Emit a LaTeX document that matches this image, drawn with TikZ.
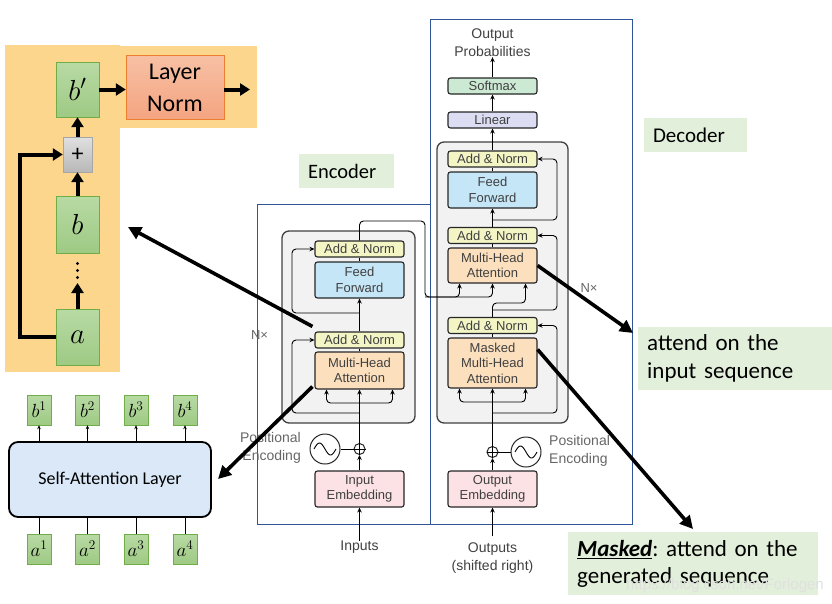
\RequirePackage{fix-cm}
\documentclass[tikz,border=0pt]{standalone}
\usepackage{fontspec}
\setmainfont{Carlito}
\newfontfamily\helv{Liberation Sans}
\usetikzlibrary{arrows.meta}

\definecolor{bggold}{RGB}{252,214,140}
\definecolor{gtop}{RGB}{184,218,164}
\definecolor{gbot}{RGB}{158,202,132}
\definecolor{gedge}{RGB}{112,173,71}
\definecolor{lntop}{RGB}{247,192,164}
\definecolor{lnbot}{RGB}{244,164,128}
\definecolor{lnedge}{RGB}{237,125,49}
\definecolor{notegreen}{RGB}{226,239,218}
\definecolor{frameblue}{RGB}{47,85,151}
\definecolor{sablue}{RGB}{218,232,247}
\definecolor{anfill}{RGB}{243,245,197}
\definecolor{fffill}{RGB}{197,230,246}
\definecolor{mhafill}{RGB}{252,224,190}
\definecolor{embfill}{RGB}{252,226,228}
\definecolor{smfill}{RGB}{204,233,212}
\definecolor{linfill}{RGB}{220,221,242}
\definecolor{tftext}{RGB}{64,64,64}

\tikzset{
  vecbox/.style={draw=gedge, top color=gtop, bottom color=gbot, inner sep=0pt},
  tfbox/.style={draw=black!85, line width=1.1pt, rounded corners=2.5pt, minimum width=89pt,
    inner sep=0pt, align=center, text=tftext, font=\helv\fontsize{13}{15.5}\selectfont},
  tfarr/.style={line width=0.9pt, rounded corners=4pt, -{Stealth[length=5pt,width=4.5pt]}},
  tfline/.style={line width=0.9pt, rounded corners=4pt},
  fatarr/.style={line width=4pt, -{Triangle[length=10pt,width=12pt]}},
  callout/.style={line width=3.6pt, -{Triangle[length=13pt,width=13pt]}},
  notebox/.style={fill=notegreen, inner xsep=9pt, inner ysep=0pt, align=left},
  tftxt/.style={text=tftext, inner sep=0pt, align=center, font=\helv\fontsize{14}{18}\selectfont},
  addcirc/.style={circle, draw=black!85, line width=1pt, minimum size=11pt, inner sep=0pt, fill=white},
  wavecirc/.style={circle, draw=black!85, line width=1pt, minimum size=30pt, inner sep=0pt},
}

\begin{document}
\begin{tikzpicture}[x=1pt,y=-1pt]
\useasboundingbox (0,0) rectangle (832,603);

% residual block on the left
\fill[bggold] (5,45) rectangle (120,372);
\fill[bggold] (38,46) rectangle (257,128);
\node[vecbox, minimum width=43pt, minimum height=55pt, font=\fontsize{29}{32}\selectfont] (bp) at (77.5,89.5) {$b'$};
\node[draw=lnedge, top color=lntop, bottom color=lnbot, minimum width=98pt, minimum height=64pt,
  inner sep=0pt, align=center, font=\fontsize{24}{32}\selectfont] (ln) at (175,87.5) {Layer\\Norm};
\node[draw=black!35, top color=black!12, bottom color=black!28, minimum width=29pt, minimum height=35pt,
  inner sep=0pt, font=\fontsize{24}{26}\selectfont] (plus) at (77.5,154.5) {+};
\node[vecbox, minimum width=43pt, minimum height=57pt, font=\fontsize{29}{32}\selectfont] (b) at (77.5,224.5) {$b$};
\foreach \y in {263.5,270.5,277.5} \fill (77.5,\y) circle (1.6);
\node[vecbox, minimum width=43pt, minimum height=56pt, font=\fontsize{29}{32}\selectfont] (a) at (77.5,337) {$a$};
\coordinate (dtop) at (77.5,283);
\coordinate (lnout) at (250,89.5);
\draw[fatarr] (bp.east) -- (bp.east -| ln.west);
\draw[fatarr] (ln.east |- bp.east) -- (lnout);
\draw[fatarr] (plus) -- (bp);
\draw[fatarr] (b) -- (plus);
\draw[fatarr] (a) -- (dtop);
\draw[fatarr] (a.west) -| (20,154.5) -- (plus.west);

% self-attention layer
\node[draw, line width=1.8pt, rounded corners=9pt, fill=sablue, minimum width=202pt, minimum height=75pt,
  font=\fontsize{18}{22}\selectfont] (sal) at (110,479.5) {Self-Attention Layer};
\foreach \i/\x in {1/39,2/87.5,3/136,4/185} {
  \node[vecbox, minimum width=24pt, minimum height=30pt, font=\fontsize{19}{22}\selectfont] (b\i) at (\x,410) {$b^{\i}$};
  \node[vecbox, minimum width=24pt, minimum height=30pt, font=\fontsize{19}{22}\selectfont] (a\i) at (\x,549) {$a^{\i}$};
  \draw[line width=0.8pt, -{Stealth[length=4pt,width=3.5pt]}] (sal.north -| b\i) -- (b\i.south);
  \draw[line width=0.8pt] (a\i.north) -- (sal.south -| a\i);
}

% encoder
\node[notebox, minimum width=95pt, minimum height=34pt, text width=77pt, font=\fontsize{20.5}{24}\selectfont] (enclabel) at (346.5,171) {Encoder};
\draw[frameblue, line width=0.9pt] (257,204) rectangle (430,524);
\node[draw=black!75, line width=1.3pt, rounded corners=7pt, fill=black!5, minimum width=133pt, minimum height=192pt] (encblock) at (348.5,327) {};
\node[tfbox, fill=anfill, minimum height=16pt] (encan2) at (359.5,249) {Add \& Norm};
\node[tfbox, fill=fffill, minimum height=36pt] (encff) at (359.5,280) {Feed\\Forward};
\node[tfbox, fill=anfill, minimum height=16pt] (encan1) at (359.5,340) {Add \& Norm};
\node[tfbox, fill=mhafill, minimum height=37pt] (encmha) at (359.5,370.5) {Multi-Head\\Attention};
\node[tfbox, fill=embfill, minimum height=36pt] (encemb) at (359.5,489) {Input\\Embedding};
\node[addcirc] (encadd) at (359.5,449) {};
\draw[line width=0.9pt] (encadd.north) -- (encadd.south) (encadd.west) -- (encadd.east);
\node[wavecirc] (encpe) at (325,449) {};
\draw[line width=0.9pt] plot[domain=-1:1, samples=30, smooth] ({325+11*\x},{449+6*sin(\x*180)});
\draw[line width=0.9pt] (encpe) -- (encadd);
\node[tftxt, align=right, anchor=east, text=black!60] (encpetext) at (301,448) {Positional\\Encoding};
\node[tftxt] (inputs) at (359.5,547) {Inputs};
\node[tftxt, text=black!60, font=\helv\fontsize{13}{15}\selectfont] (encn) at (259.5,335) {N×};
\draw[tfarr] (inputs.north) -- (encemb.south);
\draw[tfarr] (encemb.north) -- (encadd.south);
\draw[tfarr] (encadd.north) -- (encmha.south);
\draw[tfarr] (359.5,403) -| ([xshift=-33pt]encmha.south);
\draw[tfarr] (359.5,403) -| ([xshift=33pt]encmha.south);
\draw[tfline] (encmha.north) -- (encan1.south);
\draw[tfarr] (encan1.north) -- (encff.south);
\draw[tfline] (encff.north) -- (encan2.south);
\draw[tfarr] (359.5,413) -| (292,340) -- (encan1.west);
\draw[tfarr] (359.5,313) -| (292,249) -- (encan2.west);

% decoder
\node[notebox, minimum width=103pt, minimum height=34pt, text width=85pt, font=\fontsize{21}{24}\selectfont] (declabel) at (695.5,135) {Decoder};
\draw[frameblue, line width=0.9pt] (430,19) rectangle (632,524);
\node[draw=black!75, line width=1.3pt, rounded corners=7pt, fill=black!5, minimum width=131pt, minimum height=281pt] (decblock) at (502.5,282.5) {};
\node[tftxt] (outprob) at (492.5,43) {Output\\Probabilities};
\node[tfbox, fill=smfill, minimum height=16pt] (softmax) at (492.5,86) {Softmax};
\node[tfbox, fill=linfill, minimum height=16pt] (linear) at (492.5,120) {Linear};
\node[tfbox, fill=anfill, minimum height=16pt] (decan3) at (492.5,159) {Add \& Norm};
\node[tfbox, fill=fffill, minimum height=36pt] (decff) at (492.5,190) {Feed\\Forward};
\node[tfbox, fill=anfill, minimum height=16pt] (decan2) at (492.5,235.5) {Add \& Norm};
\node[tfbox, fill=mhafill, minimum height=35pt] (decmha) at (492.5,265.5) {Multi-Head\\Attention};
\node[tfbox, fill=anfill, minimum height=16pt] (decan1) at (492.5,325.5) {Add \& Norm};
\node[tfbox, fill=mhafill, minimum height=50pt] (decmmha) at (492.5,363) {Masked\\Multi-Head\\Attention};
\node[tfbox, fill=embfill, minimum height=36pt] (decemb) at (492.5,489) {Output\\Embedding};
\node[addcirc] (decadd) at (492.5,452) {};
\draw[line width=0.9pt] (decadd.north) -- (decadd.south) (decadd.west) -- (decadd.east);
\node[wavecirc] (decpe) at (526,452) {};
\draw[line width=0.9pt] plot[domain=-1:1, samples=30, smooth] ({526+11*\x},{452+6*sin(\x*180)});
\draw[line width=0.9pt] (decadd) -- (decpe);
\node[tftxt, align=left, anchor=west, text=black!60] (decpetext) at (549,451) {Positional\\Encoding};
\node[tftxt] (outputs) at (492.5,558) {Outputs\\(shifted right)};
\node[tftxt, text=black!60, font=\helv\fontsize{13}{15}\selectfont] (decn) at (589,288) {N×};
\draw[tfarr] ([yshift=6pt]outputs.north) -- (decemb.south);
\draw[tfarr] (decemb.north) -- (decadd.south);
\draw[tfarr] (decadd.north) -- (decmmha.south);
\draw[tfarr] (492.5,402) -| ([xshift=-33pt]decmmha.south);
\draw[tfarr] (492.5,402) -| ([xshift=33pt]decmmha.south);
\draw[tfline] (decmmha.north) -- (decan1.south);
\draw[tfarr] (492.5,413) -| (557,325.5) -- (decan1.east);
\draw[tfarr] (decan1.north) -- (492.5,303) -| ([xshift=33pt]decmha.south);
\draw[tfarr] (492.5,310) -| (557,235.5) -- (decan2.east);
\draw[tfline] (decmha.north) -- (decan2.south);
\draw[tfarr] (decan2.north) -- (decff.south);
\draw[tfline] (decff.north) -- (decan3.south);
\draw[tfarr] (492.5,220) -| (557,159) -- (decan3.east);
\draw[tfarr] (decan3.north) -- (linear.south);
\draw[tfarr] (linear.north) -- (softmax.south);
\draw[tfarr] (softmax.north) -- (outprob.south);
% encoder output into decoder
\draw[tfarr] (encan2.north) |- (425,221) -- (425,297) -| ([xshift=-33pt]decmha.south);
\draw[tfarr] (425,297) -| (decmha.south);

% notes
\node[notebox, anchor=north west, minimum width=194pt, minimum height=63pt, text width=176pt,
  font=\fontsize{23}{28}\selectfont] (attend) at (638,327) {attend on the\\input sequence};
\node[notebox, anchor=north west, minimum width=250pt, minimum height=63pt, text width=232pt,
  font=\fontsize{23}{27}\selectfont\frenchspacing] (masked) at (568,532) {\textbf{\textit{\underline{Masked}}}: attend on the\\generated sequence};
\node[text=black!12, inner sep=0pt, anchor=east, font=\helv\fontsize{15}{18}\selectfont] (wm) at (824,586) {https://blog.csdn.net/Forlogen};

% callouts
\coordinate (bpoint) at (128,227);
\coordinate (sapoint) at (218,479);
\coordinate (attendpoint) at (633,333);
\coordinate (maskpoint) at (693,529);
\draw[callout] ([shift={(-2,-5)}]encan1.north west) -- (bpoint);
\draw[callout] ([shift={(-2,-3)}]encmha.south west) -- (sapoint);
\draw[callout] (decmha.east) -- (attendpoint);
\draw[callout] ([shift={(0,12)}]decmmha.north east) -- (maskpoint);
\end{tikzpicture}
\end{document}
